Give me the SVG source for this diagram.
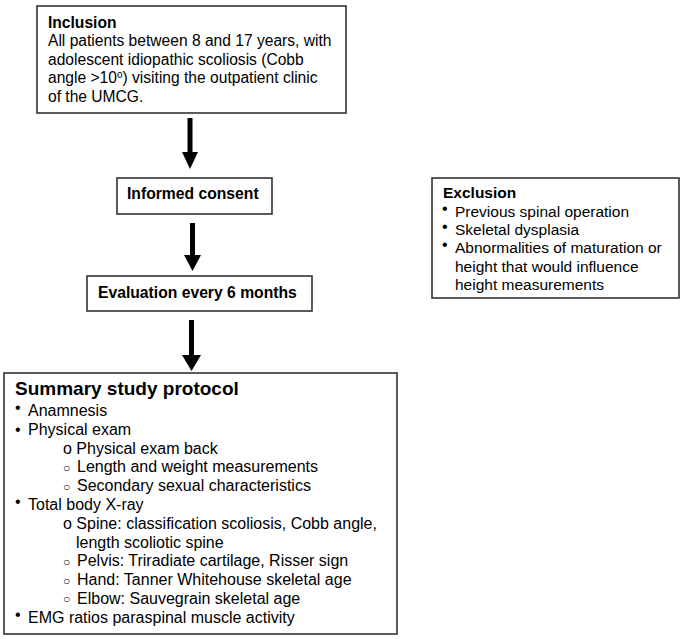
<svg xmlns="http://www.w3.org/2000/svg" width="685" height="639" viewBox="0 0 685 639">
<style>
.box{fill:#fff;stroke:#333;stroke-width:1.6}
text{font-family:"Liberation Sans",Arial,sans-serif;fill:#000}
.b{font-weight:bold}
.t{font-size:15.6px}
.x{font-size:15.5px}
.s{font-size:16px}
.bul{font-size:16px}
.circ{font-size:12px}
.shaft{stroke:#000;stroke-width:5;fill:none}
</style>
<rect width="685" height="639" fill="#fff"/>
<g id="connectors">
<line class="shaft" x1="190" y1="118" x2="190" y2="153"/>
<path d="M182,152 L198,152 L190,169 Z" fill="#000"/>
<line class="shaft" x1="192.5" y1="223" x2="192.5" y2="256"/>
<path d="M184,255 L201,255 L192.5,271 Z" fill="#000"/>
<line class="shaft" x1="191.5" y1="320" x2="191.5" y2="356"/>
<path d="M182,355 L201,355 L191.5,371 Z" fill="#000"/>
</g>
<g id="inclusion">
<rect class="box" x="37" y="6" width="309" height="107"/>
<text class="t b" x="48" y="27.5">Inclusion</text>
<text class="t" x="48" y="46">All patients between 8 and 17 years, with</text>
<text class="t" x="48" y="64.7">adolescent idiopathic scoliosis (Cobb</text>
<text class="t" x="48" y="83.3">angle &gt;10<tspan font-size="10" dy="-5">o</tspan><tspan dy="5">) visiting the outpatient clinic</tspan></text>
<text class="t" x="48" y="102">of the UMCG.</text>
</g>
<g id="consent">
<rect class="box" x="117" y="178" width="155" height="36"/>
<text class="b" font-size="15.7" x="127" y="198.5">Informed consent</text>
</g>
<g id="evaluation">
<rect class="box" x="87" y="276" width="225" height="35"/>
<text class="b" font-size="15.7" x="98" y="297.5">Evaluation every 6 months</text>
</g>
<g id="exclusion">
<rect class="box" x="432" y="178" width="247" height="120"/>
<text class="x b" x="443" y="198">Exclusion</text>
<text class="bul" x="442" y="214">•</text>
<text class="x" x="455" y="217">Previous spinal operation</text>
<text class="bul" x="442" y="232">•</text>
<text class="x" x="455" y="235">Skeletal dysplasia</text>
<text class="bul" x="442" y="250">•</text>
<text class="x" x="455" y="253">Abnormalities of maturation or</text>
<text class="x" x="455" y="272">height that would influence</text>
<text class="x" x="455" y="290">height measurements</text>
</g>
<g id="summary">
<rect class="box" x="4" y="373" width="393" height="261"/>
<text class="b" font-size="19" x="15" y="395">Summary study protocol</text>
<text class="bul" x="15" y="413">•</text>
<text class="s" x="28" y="416">Anamnesis</text>
<text class="bul" x="15" y="434.8">•</text>
<text class="s" x="28" y="434.8">Physical exam</text>
<text class="s" x="63" y="453.6">o Physical exam back</text>
<text class="circ" x="63" y="471.8">○</text>
<text class="s" x="77" y="472.4">Length and weight measurements</text>
<text class="circ" x="63" y="490.6">○</text>
<text class="s" x="77" y="491.2">Secondary sexual characteristics</text>
<text class="bul" x="15" y="507">•</text>
<text class="s" x="28" y="510">Total body X-ray</text>
<text class="s" x="63" y="528.8">o Spine: classification scoliosis, Cobb angle,</text>
<text class="s" x="76" y="547.6">length scoliotic spine</text>
<text class="circ" x="63" y="565.8">○</text>
<text class="s" x="77" y="566.4">Pelvis: Triradiate cartilage, Risser sign</text>
<text class="circ" x="63" y="584.6">○</text>
<text class="s" x="77" y="585.2">Hand: Tanner Whitehouse skeletal age</text>
<text class="circ" x="63" y="603.4">○</text>
<text class="s" x="77" y="604">Elbow: Sauvegrain skeletal age</text>
<text class="bul" x="15" y="620">•</text>
<text class="s" x="28" y="622.8">EMG ratios paraspinal muscle activity</text>
</g>
</svg>
